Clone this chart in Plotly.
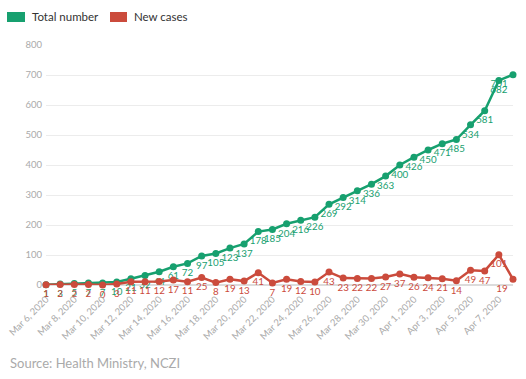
import plotly.graph_objects as go
import pandas as pd

dates = pd.date_range("2020-03-06", "2020-04-08", freq="D")
total_number = [1, 3, 5, 7, 7, 10, 21, 32, 44, 61, 72, 97, 105, 123, 137, 178, 185, 204, 216, 226,
                269, 292, 314, 336, 363, 400, 426, 450, 471, 485, 534, 581, 682, 701]
new_cases = [1, 2, 2, 2, 0, 3, 11, 11, 12, 17, 11, 25, 8, 19, 13, 41, 7, 19, 12, 10,
             43, 23, 22, 22, 27, 37, 26, 24, 21, 14, 49, 47, 101, 19]
series_names = ["Total number", "New cases"]

GREEN = "#17a06f"
RED = "#cb4b3c"
FONT = "Lato"

W, H = 526, 379
L, R, T, B = 46, 13, 45, 94
PW, PH = W - L - R, H - T - B


def px(x):
    return (x - L) / PW


def py(y):
    return (H - B - y) / PH


n = len(dates)
pos = ["bottom center"] * (n - 1) + ["bottom left"]

fig = go.Figure()
for vals, col in [(total_number, GREEN), (new_cases, RED)]:
    fig.add_trace(go.Scatter(
        x=dates, y=vals, mode="lines+markers+text", text=[str(v) for v in vals],
        textposition=pos, textfont=dict(color=col, size=9.8, family=FONT),
        line=dict(color=col, width=2.5), marker=dict(color=col, size=7),
        showlegend=False, cliponaxis=False, hoverinfo="x+y"))

shapes = []
annotations = []
for (sx0, sx1, tx), col, name in zip([(7, 25, 30), (110, 127, 132)], [GREEN, RED], series_names):
    shapes.append(dict(type="rect", xref="paper", yref="paper",
                       x0=px(sx0), x1=px(sx1), y0=py(22), y1=py(12),
                       fillcolor=col, line=dict(width=0), layer="above"))
    annotations.append(dict(text=name, xref="paper", yref="paper", x=px(tx), y=py(17),
                            xanchor="left", yanchor="middle", showarrow=False,
                            font=dict(size=11.5, color="#333", family=FONT)))
annotations.append(dict(text="Source: Health Ministry, NCZI", xref="paper", yref="paper",
                        x=px(8), y=py(363), xanchor="left", yanchor="middle", showarrow=False,
                        font=dict(size=13, color="#aaa", family=FONT)))

fig.update_layout(
    width=W, height=H,
    margin=dict(l=L, r=R, t=T, b=B, autoexpand=False),
    paper_bgcolor="white", plot_bgcolor="white",
    font=dict(family=FONT, color="#333"),
    showlegend=False,
    shapes=shapes,
    annotations=annotations,
)
fig.update_xaxes(
    range=[dates[0], dates[-1]], tickmode="linear", tick0=dates[0], dtick=2 * 86400000,
    tickformat="%b %-d, %Y", tickangle=-45, tickfont=dict(size=9.5, color="#aaa", family=FONT),
    showgrid=False, showline=False, zeroline=False, ticks="", automargin=False,
    ticklabeloverflow="allow", ticklabelstandoff=6)
fig.update_yaxes(
    range=[0, 800], dtick=100, tickfont=dict(size=9.5, color="#aaa", family=FONT),
    gridcolor="#ececec", zeroline=True, zerolinecolor="#dcdcdc", showline=False, ticks="",
    ticklabelstandoff=3, automargin=False)

fig.write_html("out.html", config={"displayModeBar": False},
               post_script="document.body.style.margin='0';document.body.style.overflow='hidden';")
